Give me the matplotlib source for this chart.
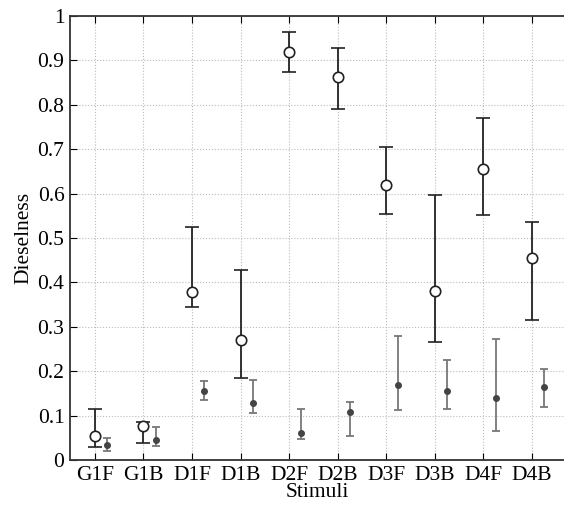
import matplotlib.pyplot as plt
import numpy as np

plt.rcParams['font.family'] = ['Liberation Serif', 'DejaVu Serif']

# stimuli and the two series (mean, upper, lower)
stimuli = ['G1F', 'G1B', 'D1F', 'D1B', 'D2F', 'D2B', 'D3F', 'D3B', 'D4F', 'D4B']

open_mean = [0.053, 0.077, 0.378, 0.270, 0.920, 0.862, 0.620, 0.380, 0.655, 0.455]
open_upper = [0.115, 0.085, 0.525, 0.428, 0.965, 0.927, 0.706, 0.597, 0.770, 0.537]
open_lower = [0.030, 0.039, 0.345, 0.185, 0.873, 0.790, 0.555, 0.265, 0.552, 0.315]

dot_mean = [0.033, 0.045, 0.155, 0.128, 0.060, 0.108, 0.168, 0.155, 0.140, 0.165]
dot_upper = [0.050, 0.075, 0.178, 0.180, 0.115, 0.130, 0.280, 0.225, 0.273, 0.205]
dot_lower = [0.020, 0.032, 0.135, 0.105, 0.048, 0.055, 0.113, 0.115, 0.065, 0.120]

x = np.arange(1, len(stimuli) + 1)

fig = plt.figure(figsize=(5.64, 5.08), dpi=100)
# axes run off the right edge (the original is cropped there)
ax = fig.add_axes([0.124, 0.0945, 0.876, 0.874])

om = np.array(open_mean)
dm = np.array(dot_mean)
ax.errorbar(x, om, yerr=[om - np.array(open_lower), np.array(open_upper) - om],
            fmt='o', color='#222222', mfc='white', mec='#222222', ms=7.5, mew=1.2,
            elinewidth=1.3, capsize=5, capthick=1.3, zorder=3)
ax.errorbar(x + 0.25, dm, yerr=[dm - np.array(dot_lower), np.array(dot_upper) - dm],
            fmt='o', color='#777777', mfc='#444444', mec='#444444', ms=4,
            elinewidth=1.3, capsize=2.8, capthick=1.3, zorder=3)

ax.set_xlim(0.485, 10.66)
ax.set_ylim(0, 1)
ax.set_xticks(x)
ax.set_xticklabels(stimuli)
ax.set_yticks(np.arange(0, 1.01, 0.1))
ax.set_yticklabels(['0'] + ['%.1f' % v for v in np.arange(0.1, 0.95, 0.1)] + ['1'])
ax.grid(True, linestyle=':', color='#bbbbbb', linewidth=0.8)
ax.tick_params(direction='in', top=True, right=False, labelsize=15.5, length=5, pad=4)
for s in ax.spines.values():
    s.set_color('#333333')
    s.set_linewidth(1.3)
ax.spines['right'].set_visible(False)

ax.set_xlabel('Stimuli', fontsize=15.5, labelpad=-1)
ax.set_ylabel('Dieselness', fontsize=15.5, labelpad=3)

fig.savefig('out.png', dpi=100)
